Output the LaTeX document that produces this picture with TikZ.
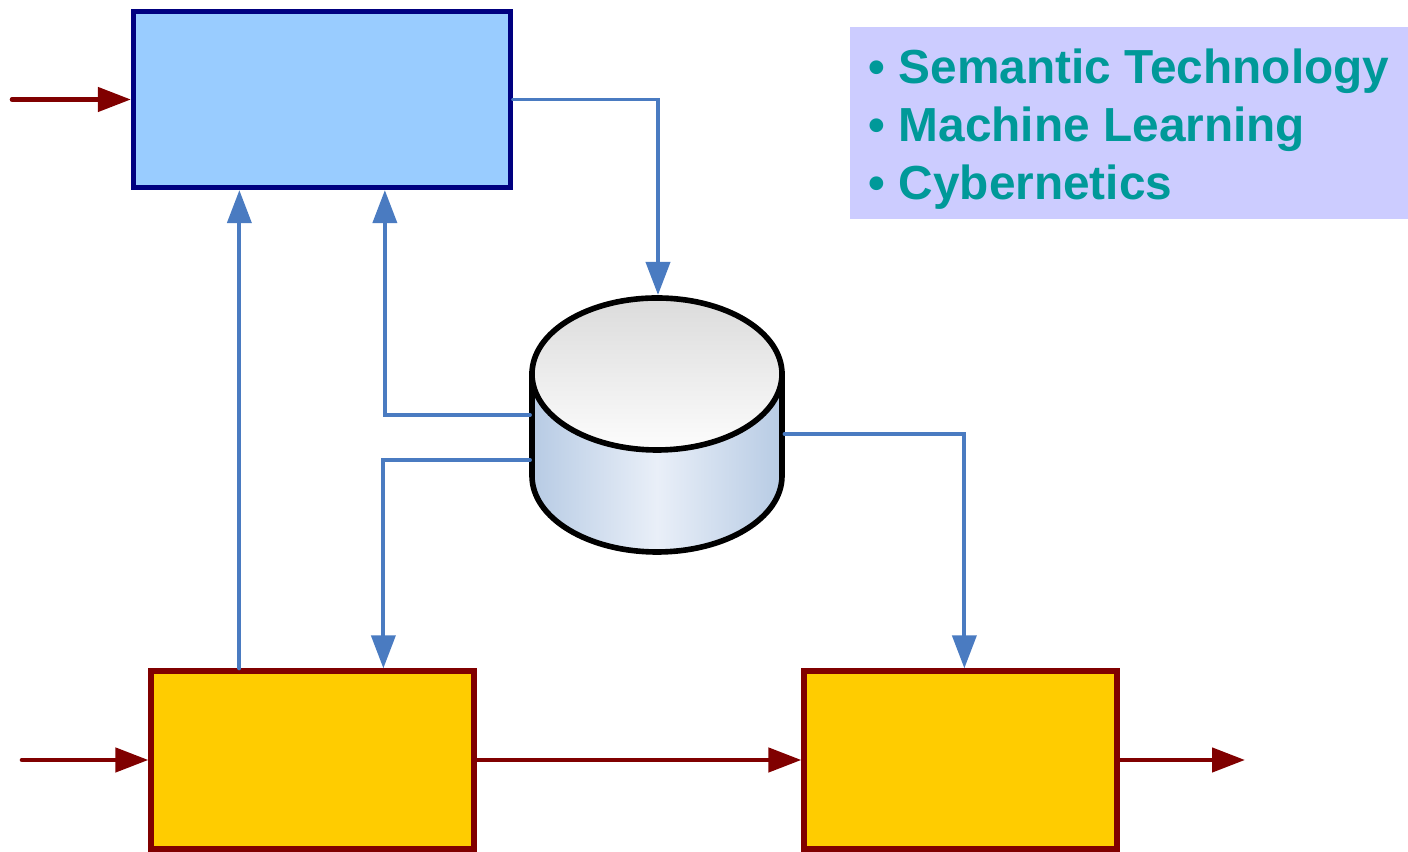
\documentclass[tikz,border=0pt]{standalone}
\usepackage{fontspec}
\newfontfamily\legendfont{Liberation Sans}
\usepackage{xcolor}
\usepackage{tikz}
\usetikzlibrary{arrows.meta}

\definecolor{planfill}{HTML}{99CCFF}
\definecolor{planline}{HTML}{000080}
\definecolor{boxfill}{HTML}{FFCC00}
\definecolor{boxline}{HTML}{800000}
\definecolor{flowblue}{HTML}{4A7BC1}
\definecolor{legendfill}{HTML}{CCCCFF}
\definecolor{legendtext}{HTML}{009999}
\definecolor{dbside}{HTML}{B7CBE4}
\definecolor{dbmid}{HTML}{E9EFF8}

\begin{document}
\begin{tikzpicture}[
  plan/.style={draw=planline, fill=planfill, line width=1.5pt, minimum width=3.77cm, minimum height=1.76cm},
  unit/.style={draw=boxline, fill=boxfill, line width=1.5pt, minimum height=1.78cm},
  legend/.style={fill=legendfill, inner sep=0pt, minimum width=5.58cm, minimum height=1.92cm},
  topictext/.style={text=legendtext, align=left, inner sep=0pt,
    font=\legendfont\bfseries\fontsize{13.6}{16.5}\selectfont},
  flow/.style={draw=flowblue, line width=1.1pt, line cap=round, -{Triangle[length=3.3mm,width=2.4mm]}},
  signal/.style={draw=boxline, line width=1.3pt, line cap=round, -{Triangle[length=3.3mm,width=2.4mm]}}
]
\useasboundingbox (0,0) rectangle (14.08,8.52);

\node[plan] (plan) at (3.22,7.525) {};
\node[unit, minimum width=3.23cm] (left) at (3.125,0.92) {};
\node[unit, minimum width=3.13cm] (right) at (9.605,0.92) {};
\node[legend] (topics) at (11.29,7.29) {};
\node[topictext] (topicList) at ([yshift=-0.06cm]topics.center) {\textbullet\ Semantic Technology\\ \textbullet\ Machine Learning\\ \textbullet\ Cybernetics};

% database
\shadedraw[left color=dbside, right color=dbside, middle color=dbmid, draw=black, line width=1.6pt]
  (5.32,4.78) -- (5.32,3.76) arc[start angle=180, end angle=360, x radius=1.25cm, y radius=0.76cm] -- (7.82,4.78) -- cycle;
\shadedraw[top color=black!14, bottom color=black!1, draw=black, line width=1.6pt]
  (6.57,4.78) ellipse[x radius=1.25cm, y radius=0.76cm];

\coordinate (dbIn) at (6.58,5.57);
\coordinate (dbA) at (5.30,4.37);
\coordinate (dbB) at (5.30,3.92);
\coordinate (dbC) at (7.845,4.18);
\coordinate (tap) at ([xshift=0.91cm]left.north west);
\coordinate (in1) at (0.12,7.525);
\coordinate (in2) at (0.22,0.92);
\coordinate (out) at (12.45,0.92);

\draw[flow] (plan.east) -| (dbIn);
\draw[flow] (dbA) -| ([xshift=2.54cm]plan.south west);
\draw[flow] (dbB) -| ([xshift=2.35cm]left.north west);
\draw[flow] (dbC) -| ([xshift=1.63cm]right.north west);
\draw[flow] (tap) -- (tap |- plan.south);

\draw[signal] (in1) -- (plan.west);
\draw[signal] (in2) -- (left.west);
\draw[signal] (left.east) -- (right.west);
\draw[signal] (right.east) -- (out);

\end{tikzpicture}
\end{document}
